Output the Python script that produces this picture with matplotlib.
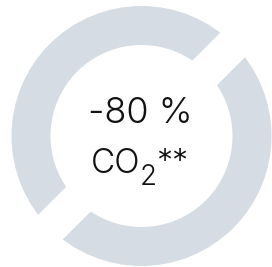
import matplotlib.pyplot as plt

# Data: two equal halves of the ring, label in the middle
shares = [50, 50]
ring_colors = ['#d5dce3', '#d5dce3']
value_label = '-80 %'
gas_label = 'CO'
gas_sub = '2'
note_mark = '**'

fig = plt.figure(figsize=(2.72, 2.67), dpi=100)
ax = fig.add_axes([0, 0, 1, 1])

# white edges cut the parallel gaps; radius grown to make up for the stroke
gap_pt = 25
half_gap = gap_pt / 72 * 100 / 2
outer_r = 130 + half_gap
inner_r = 91 - half_gap
ax.pie(shares, colors=ring_colors, startangle=45, counterclock=False,
       radius=outer_r, center=(141.5, 131),
       wedgeprops=dict(width=outer_r - inner_r, edgecolor='white',
                       linewidth=gap_pt))

ax.set_xlim(0, 272)
ax.set_ylim(0, 267)
ax.set_aspect('equal')
ax.axis('off')

txt = dict(family='Inter', fontweight=300, color='#111111', va='baseline')
ax.text(140, 144, value_label, ha='center', fontsize=26, **txt)
ax.text(91, 94, gas_label, ha='left', fontsize=24, **txt)
ax.text(139.5, 82, gas_sub, ha='left', fontsize=20, **txt)
ax.text(156.5, 95, note_mark, ha='left', fontsize=23, **txt)

fig.savefig('out.png', dpi=100)
